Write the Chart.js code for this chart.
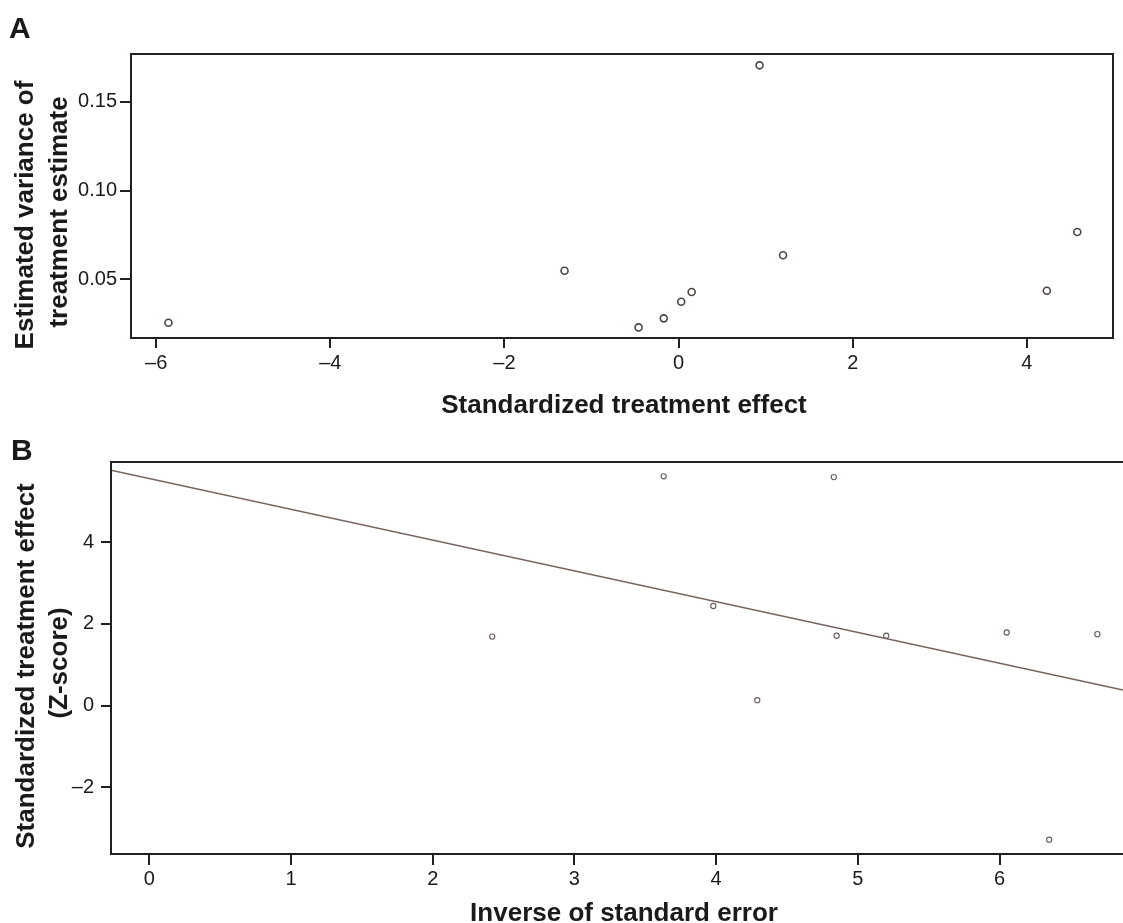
<!DOCTYPE html>
<html>
<head>
<meta charset="utf-8">
<script src="https://cdn.jsdelivr.net/npm/chart.js@4/dist/chart.umd.min.js"></script>
<style>
    body { margin: 0; background: #fff; overflow: hidden; }
    .wrap { position: relative; width: 1123px; height: 923px; overflow: hidden; }
    canvas { position: absolute; left: 0; }
    #chartA { top: 0; }
    #chartB { top: 430px; }
</style>
</head>
<body>
<div class="wrap">
    <canvas id="chartA" width="1123" height="430"></canvas>
    <!-- a bit wider than the page: the plot of B runs off the right edge like the figure -->
    <canvas id="chartB" width="1128" height="493"></canvas>
</div>
<script>
// panel A - variance vs standardized effect
const effectA = [-5.86, -1.31, -0.46, -0.17, 0.03, 0.15, 0.93, 1.20, 4.23, 4.58];
const varianceA = [0.0253, 0.0547, 0.0227, 0.0278, 0.0372, 0.0427, 0.1707, 0.0634, 0.0434, 0.0766];
const xTicksA = [-6, -4, -2, 0, 2, 4];
const yTicksA = [0.05, 0.10, 0.15];

// panel B - z-score vs inverse of standard error
const precisionB = [2.42, 3.63, 3.98, 4.29, 4.83, 4.85, 5.20, 6.05, 6.69, 6.35];
const zScoreB = [1.69, 5.62, 2.44, 0.13, 5.60, 1.71, 1.71, 1.79, 1.75, -3.29];
// regression line ends
const fitX = [-0.27, 6.87];
const fitY = [5.77, 0.38];
const xTicksB = [0, 1, 2, 3, 4, 5, 6];
const yTicksB = [-2, 0, 2, 4];

const FONT = '"Liberation Sans", Arial, sans-serif';
const textColor = '#1a1a1a';
const frameColor = '#231f20';

// minus sign like the figure
const dash = (v) => String(v).replace('-', '\u2013');

// draws the box round the plot and the text titles
const decorPlugin = {
    id: 'decor',
    afterDraw(chart, args, opts) {
        const { ctx, chartArea } = chart;
        const { left, top, right, bottom } = chartArea;
        ctx.save();
        ctx.strokeStyle = frameColor;
        ctx.lineWidth = 2;
        ctx.beginPath();
        if (opts.fullBox) {
            ctx.rect(left, top, right - left, bottom - top);
        } else {
            ctx.moveTo(right + 5, top);
            ctx.lineTo(left, top);
            ctx.lineTo(left, bottom);
            ctx.lineTo(right + 5, bottom);
        }
        ctx.stroke();

        ctx.fillStyle = textColor;
        ctx.textBaseline = 'alphabetic';

        // panel letter
        ctx.font = `bold 30px ${FONT}`;
        ctx.textAlign = 'left';
        ctx.fillText(opts.letter.text, opts.letter.x, opts.letter.y);

        ctx.font = `bold 26px ${FONT}`;
        ctx.textAlign = 'center';
        ctx.fillText(opts.xTitle.text, opts.xTitle.x, opts.xTitle.y);

        opts.yTitle.forEach(line => {
            ctx.save();
            ctx.translate(line.x, line.y);
            ctx.rotate(-Math.PI / 2);
            ctx.fillText(line.text, 0, 0);
            ctx.restore();
        });
        ctx.restore();
    }
};

const axisCommon = (tickLength, padding, values, fmt) => ({
    type: 'linear',
    border: { display: false },
    grid: {
        drawOnChartArea: false,
        drawTicks: true,
        tickLength: tickLength,
        color: frameColor,
        lineWidth: 2
    },
    ticks: {
        padding: padding,
        color: textColor,
        font: { family: FONT, size: 20 },
        callback: fmt
    },
    afterBuildTicks: (scale) => {
        scale.ticks = values.map(v => ({ value: v }));
    }
});

// chart A
const ctxA = document.getElementById('chartA');

const xA = axisCommon(10, 3, xTicksA, (v) => dash(v));
xA.min = -6.29;
xA.max = 4.99;
xA.afterFit = (scale) => { scale.height = 92; };

const yA = axisCommon(11, 3, yTicksA, (v) => v.toFixed(2));
yA.min = 0.0167;
yA.max = 0.1771;
yA.afterFit = (scale) => { scale.width = 131; };

new Chart(ctxA, {
    type: 'scatter',
    data: {
        datasets: [{
            data: effectA.map((x, i) => ({ x: x, y: varianceA[i] })),
            pointRadius: 3.5,
            pointBorderWidth: 1.6,
            pointBorderColor: '#4f4440',
            pointBackgroundColor: 'rgba(255,255,255,0)'
        }]
    },
    options: {
        responsive: false,
        animation: false,
        devicePixelRatio: 1,
        layout: { padding: { left: 0, top: 54, right: 10, bottom: 0 } },
        scales: { x: xA, y: yA },
        plugins: {
            legend: { display: false },
            tooltip: { enabled: false },
            decor: {
                fullBox: true,
                letter: { text: 'A', x: 9, y: 38 },
                xTitle: { text: 'Standardized treatment effect', x: 624, y: 413 },
                yTitle: [
                    { text: 'Estimated variance of', x: 33, y: 215 },
                    { text: 'treatment estimate', x: 67, y: 212 }
                ]
            }
        }
    },
    plugins: [decorPlugin]
});

// chart B
const ctxB = document.getElementById('chartB');

const xB = axisCommon(11, 2, xTicksB, (v) => dash(v));
xB.min = -0.27;
xB.max = 6.87;
xB.afterFit = (scale) => { scale.height = 69; };

const yB = axisCommon(10, 7, yTicksB, (v) => dash(v));
yB.min = -3.64;
yB.max = 5.97;
yB.afterFit = (scale) => { scale.width = 111; };

new Chart(ctxB, {
    type: 'scatter',
    data: {
        datasets: [{
            type: 'line',
            data: fitX.map((x, i) => ({ x: x, y: fitY[i] })),
            borderColor: '#76645f',
            borderWidth: 1.5,
            pointRadius: 0,
            fill: false
        }, {
            data: precisionB.map((x, i) => ({ x: x, y: zScoreB[i] })),
            pointRadius: 2.6,
            pointBorderWidth: 1.1,
            pointBorderColor: '#6a5c57',
            pointBackgroundColor: 'rgba(255,255,255,0)'
        }]
    },
    options: {
        responsive: false,
        animation: false,
        devicePixelRatio: 1,
        layout: { padding: { left: 0, top: 32, right: 0, bottom: 0 } },
        scales: { x: xB, y: yB },
        plugins: {
            legend: { display: false },
            tooltip: { enabled: false },
            decor: {
                fullBox: false,
                letter: { text: 'B', x: 11, y: 30 },
                xTitle: { text: 'Inverse of standard error', x: 624, y: 491 },
                yTitle: [
                    { text: 'Standardized treatment effect', x: 34, y: 666 - 430 },
                    { text: '(Z-score)', x: 67, y: 663 - 430 }
                ]
            }
        }
    },
    plugins: [decorPlugin]
});
</script>
</body>
</html>
